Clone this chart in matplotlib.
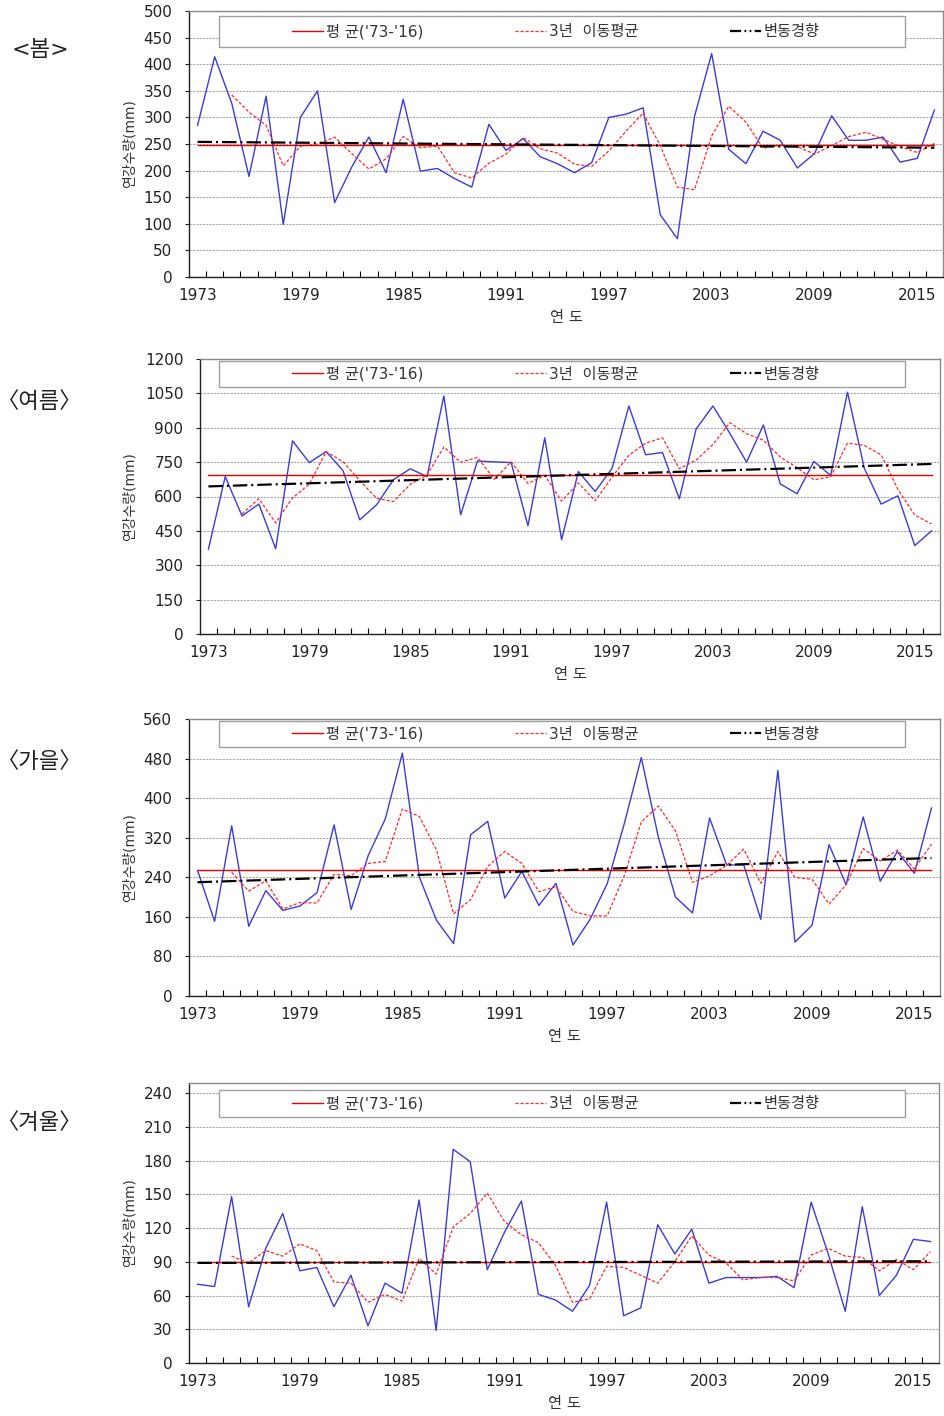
import numpy as np
import matplotlib.pyplot as plt
import matplotlib as mpl
from matplotlib.patches import Rectangle
from matplotlib.lines import Line2D

mpl.rcParams['font.family'] = ['DejaVu Sans', 'Noto Sans CJK KR']

years = list(range(1973, 2017))
ma_years = years[2:]
year_labels = [1973, 1979, 1985, 1991, 1997, 2003, 2009, 2015]

# 봄
spring = [285, 414, 326, 189, 340, 99, 300, 350, 140, 207,
          263, 196, 334, 199, 204, 185, 169, 287, 238, 260,
          226, 213, 196, 215, 300, 306, 318, 117, 72, 302,
          420, 240, 213, 274, 257, 205, 232, 303, 257, 257,
          263, 216, 223, 314]
spring_ma = [342, 310, 285, 209, 246, 250, 263, 232, 203, 222,
             264, 243, 246, 196, 186, 214, 231, 262, 241, 233,
             212, 208, 237, 274, 308, 247, 169, 164, 265, 321,
             291, 242, 248, 245, 231, 247, 264, 272, 259, 245,
             234, 251]
spring_mean = 249
spring_trend = [254, 243]
spring_yticks = list(range(0, 501, 50))

# 여름
summer = [370, 687, 515, 567, 372, 843, 748, 796, 713, 498,
          564, 673, 721, 687, 1039, 520, 755, 751, 748, 472,
          856, 411, 709, 622, 723, 995, 782, 792, 590, 895,
          995, 876, 750, 912, 655, 612, 753, 692, 1055, 723,
          567, 603, 386, 450]
summer_ma = [524, 590, 485, 594, 654, 796, 752, 669, 592, 578,
             653, 694, 816, 749, 771, 675, 751, 657, 692, 580,
             659, 581, 685, 780, 833, 856, 721, 759, 827, 922,
             874, 846, 772, 726, 673, 686, 833, 823, 782, 631,
             519, 480]
summer_mean = 692
summer_trend = [644, 742]
summer_yticks = list(range(0, 1201, 150))

# 가을
autumn = [254, 151, 344, 141, 213, 173, 182, 209, 346, 175,
          284, 358, 491, 240, 153, 106, 326, 353, 198, 252,
          183, 228, 103, 155, 227, 348, 482, 321, 200, 168,
          360, 265, 265, 155, 456, 109, 143, 306, 225, 362,
          232, 292, 248, 380]
autumn_ma = [250, 212, 233, 176, 189, 188, 246, 243, 268, 272,
             378, 363, 295, 166, 195, 262, 292, 268, 211, 221,
             171, 162, 162, 243, 352, 384, 334, 230, 243, 264,
             297, 228, 292, 240, 236, 186, 225, 298, 273, 295,
             257, 307]
autumn_mean = 254
autumn_trend = [230, 279]
autumn_yticks = list(range(0, 561, 80))

# 겨울
winter = [70, 68, 148, 50, 102, 133, 82, 85, 50, 78,
          33, 71, 62, 145, 29, 190, 179, 83, 116, 144,
          61, 56, 46, 69, 143, 42, 49, 123, 97, 119,
          71, 76, 76, 76, 77, 67, 143, 97, 46, 139,
          60, 78, 110, 108]
winter_ma = [95, 89, 100, 95, 106, 100, 72, 71, 54, 61,
             55, 93, 79, 121, 133, 151, 126, 114, 107, 87,
             54, 57, 86, 85, 78, 71, 90, 113, 96, 89,
             74, 76, 76, 73, 96, 102, 95, 94, 82, 92,
             83, 99]
winter_mean = 89.5
winter_trend = [89, 90.5]
winter_yticks = list(range(0, 241, 30))

W, H = 944, 1416

panels = [
    dict(title='<봄>', raw=spring, ma=spring_ma, mean=spring_mean, trend=spring_trend,
         yticks=spring_yticks, ytop=500, box=(189, 11, 943, 277), leg=(16, 47), title_y=50),
    dict(title='〈여름〉', raw=summer, ma=summer_ma, mean=summer_mean, trend=summer_trend,
         yticks=summer_yticks, ytop=1200, box=(200, 359, 940, 634), leg=(361, 387), title_y=402),
    dict(title='〈가을〉', raw=autumn, ma=autumn_ma, mean=autumn_mean, trend=autumn_trend,
         yticks=autumn_yticks, ytop=560, box=(189, 719, 940, 996), leg=(721, 747), title_y=762),
    dict(title='〈겨울〉', raw=winter, ma=winter_ma, mean=winter_mean, trend=winter_trend,
         yticks=winter_yticks, ytop=249, box=(189, 1083, 939, 1363), leg=(1090, 1117), title_y=1123),
]

trend_style = (0, (6.5, 1.8, 0.9, 1.8))

fig = plt.figure(figsize=(W / 100, H / 100), dpi=100)

for p in panels:
    l, t, r, b = p['box']
    ax = fig.add_axes([l / W, 1 - b / H, (r - l) / W, (b - t) / H])

    ax.plot(years, p['raw'], color='#3c3cd8', lw=1.0, zorder=3)
    ma_line, = ax.plot(ma_years, p['ma'], color='#ff2a2a', lw=0.9, ls=(0, (2.5, 1.5)), zorder=3)
    mean_line, = ax.plot([years[0], years[-1]], [p['mean'], p['mean']], color='#e80000', lw=1.0, zorder=4)
    ax.plot([years[0], years[-1]], p['trend'], color='black', lw=1.6, ls=trend_style, zorder=5)
    # legend shows the trend as dash-dot-dot
    trend_handle = Line2D([], [], color='black', lw=1.6, ls=(0, (5, 1.5, 0.8, 1.5, 0.8, 1.5)))

    ax.set_xlim(1972.5, 2016.5)
    ax.set_ylim(0, p['ytop'])
    ax.set_yticks(p['yticks'])
    ax.set_xticks(year_labels)
    ax.set_xticks(np.arange(1973.5, 2016, 1), minor=True)
    ax.tick_params(axis='x', which='major', length=0, pad=8, labelsize=11, colors='#222222')
    ax.tick_params(axis='x', which='minor', direction='in', length=4, width=0.8, color='black')
    ax.tick_params(axis='y', length=3, width=0.8, pad=9, labelsize=11, colors='#222222')
    ax.yaxis.grid(True, color='#a8a8a8', ls=(0, (2, 1)), lw=0.8, zorder=1)
    ax.set_axisbelow(True)

    for side in ['left', 'bottom']:
        ax.spines[side].set_color('#202020')
        ax.spines[side].set_linewidth(1.0)
    for side in ['top', 'right']:
        ax.spines[side].set_color('#8a8a8a')
        ax.spines[side].set_linewidth(1.0)

    ax.set_ylabel('연강수량(mm)', fontsize=10, color='#333333')
    ax.yaxis.set_label_coords(137 / W, 1 - ((t + b) / 2) / H, transform=fig.transFigure)
    ax.set_xlabel('연 도', fontsize=11, color='#333333', labelpad=5)

    # legend box
    lt, lb = p['leg']
    ax.add_patch(Rectangle((219 / W, 1 - lb / H), (905 - 219) / W, (lb - lt) / H,
                           transform=fig.transFigure, facecolor='white', edgecolor='#a0a0a0',
                           lw=1.0, zorder=6, clip_on=False))
    leg = ax.legend([mean_line, ma_line, trend_handle], ["평 균('73-'16)", '3년  이동평균', '변동경향'],
                    loc='center', ncol=3, mode='expand', frameon=False, borderpad=0,
                    bbox_to_anchor=(292 / W, 1 - lb / H, (820 - 292) / W, (lb - lt) / H),
                    bbox_transform=fig.transFigure, fontsize=11, handlelength=2.0,
                    handletextpad=0.2, borderaxespad=0)
    leg.set_zorder(7)
    for txt in leg.get_texts():
        txt.set_color('#333333')

    fig.text(40 / W, 1 - p['title_y'] / H, p['title'], fontsize=16, ha='center', va='center',
             color='#222222')

fig.savefig('out.png', dpi=100)
